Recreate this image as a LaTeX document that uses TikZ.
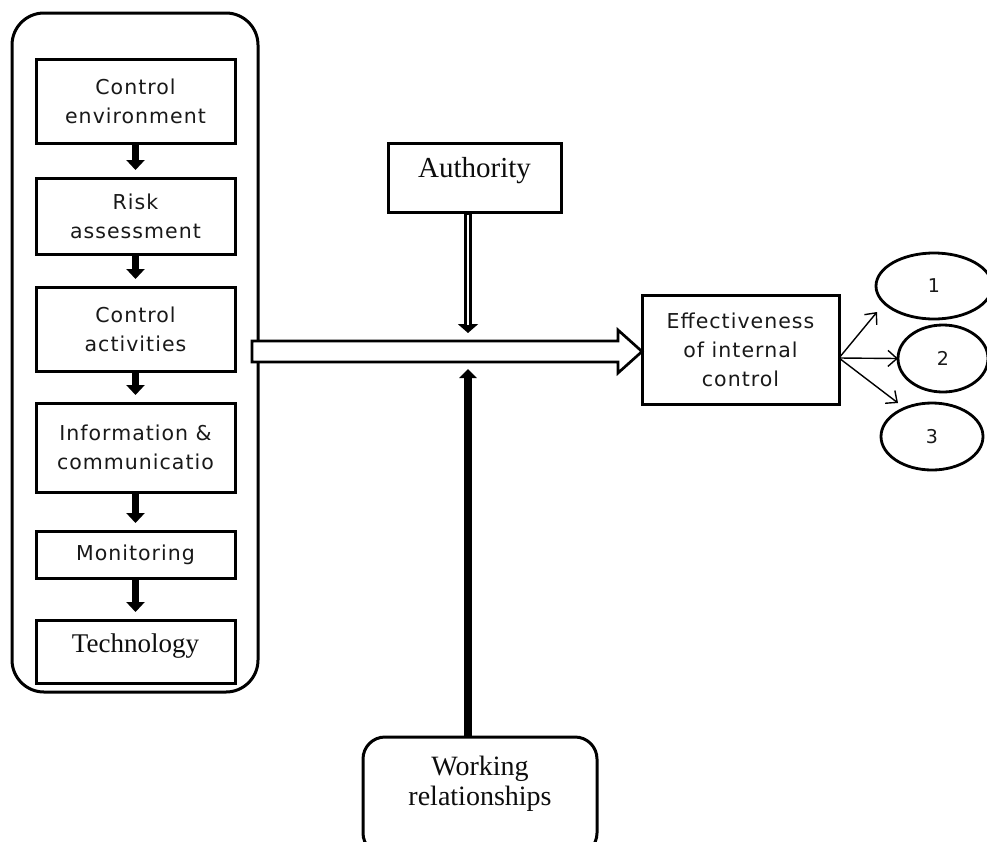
\documentclass[tikz,border=0pt]{standalone}
\usepackage{fontspec}
\setmainfont{Liberation Serif}
\newfontfamily\dsans[LetterSpace=5]{DejaVu Sans}
\newfontfamily\dsansplain{DejaVu Sans}
\usetikzlibrary{arrows.meta,shapes.geometric,calc}
\begin{document}
\begin{tikzpicture}[x=1pt,y=-1pt,
  every node/.style={inner sep=0pt, outer sep=0pt},
  frm/.style={draw, line width=3pt, rounded corners=32pt, minimum width=246pt, minimum height=679pt},
  sbox/.style={draw, line width=3pt, rectangle, minimum width=199pt, align=center, text=black!90, font=\dsans\fontsize{20.5}{29}\selectfont},
  rbox/.style={draw, line width=3pt, rectangle, align=center, text=black!95, font=\fontsize{29}{30}\selectfont},
  oval/.style={draw, line width=2.8pt, ellipse, text=black!90, font=\dsansplain\fontsize{19}{20}\selectfont},
  chain/.style={line width=6.5pt, -{Triangle[length=10pt,width=18pt]}, shorten >=8pt},
  fan/.style={line width=1.4pt, -{Straight Barb[length=9pt,width=16pt]}},
  hollow/.style={draw, fill=white, line width=2.7pt, line join=miter},
]
\useasboundingbox (0,0) rectangle (987,841);
\fill[white] (0,0) rectangle (987,841);

\node[frm] (frame) at (135,352.5) {};
\node[sbox, minimum height=84pt] (ce) at (135.5,101) {Control\\environment};
\node[sbox, minimum height=76pt] (ra) at (135.5,216) {Risk\\assessment};
\node[sbox, minimum height=84pt] (ca) at (135.5,329) {Control\\activities};
\node[sbox, minimum height=89pt] (ic) at (135.5,447.5) {Information \&\\communicatio};
\node[sbox, minimum height=47pt] (mo) at (135.5,554.5) {Monitoring};
\node[rbox, minimum width=199pt, minimum height=63pt, font=\fontsize{27}{30}\selectfont, text height=18.4pt, text depth=17.4pt] (te) at (135.5,651.5) {Technology};

\draw[chain] (ce) -- (ra);
\draw[chain] (ra) -- (ca);
\draw[chain] (ca) -- (ic);
\draw[chain] (ic) -- (mo);
\draw[chain] (mo) -- (te);

\node[rbox, minimum width=173pt, minimum height=69pt, text height=19.8pt, text depth=20.8pt] (auth) at (474.5,177.5) {Authority};
\node[sbox, minimum width=197pt, minimum height=109pt] (eff) at (740.5,349.5) {Effectiveness\\of internal\\control};
\node[oval, minimum width=116pt, minimum height=66pt] (o1) at (934,286) {1};
\node[oval, minimum width=90pt, minimum height=67pt] (o2) at (943,358.5) {2};
\node[oval, minimum width=102pt, minimum height=67pt] (o3) at (932,436.5) {3};
\node[rbox, rounded corners=22pt, minimum width=234pt, minimum height=118pt, font=\fontsize{28}{30}\selectfont, text height=49pt, text depth=31pt] (wr) at (480,796) {Working\\relationships};

\coordinate (cross) at (468,351.5);
\coordinate (hs) at (252,351.5);
\coordinate (ht) at (eff.west |- cross);

\draw[hollow] ($(hs)+(0,-10.5)$) -- ($(ht)+(-24,-10.5)$) -- ($(ht)+(-24,-21.5)$) -- (ht)
  -- ($(ht)+(-24,21.5)$) -- ($(ht)+(-24,10.5)$) -- ($(hs)+(0,10.5)$) -- cycle;

\draw[line width=8pt, -{Triangle[length=9pt,width=20pt]}] (auth.south -| cross) -- ([yshift=18.5pt]cross);
\draw[white, line width=2.6pt] ($(auth.south -| cross)+(0,2.5)$) -- ([yshift=27pt]cross);

\draw[line width=7.5pt, -{Triangle[length=9pt,width=17pt]}] (wr.north -| cross) -- ([yshift=-17.5pt]cross);

\coordinate (fs) at ([yshift=-8.5pt]eff.east);
\coordinate (t1) at (877,312);
\coordinate (t3) at (898,403);
\draw[fan] (fs) -- (t1);
\draw[fan] (fs) -- (o2.west);
\draw[fan] (fs) -- (t3);
\end{tikzpicture}
\end{document}
